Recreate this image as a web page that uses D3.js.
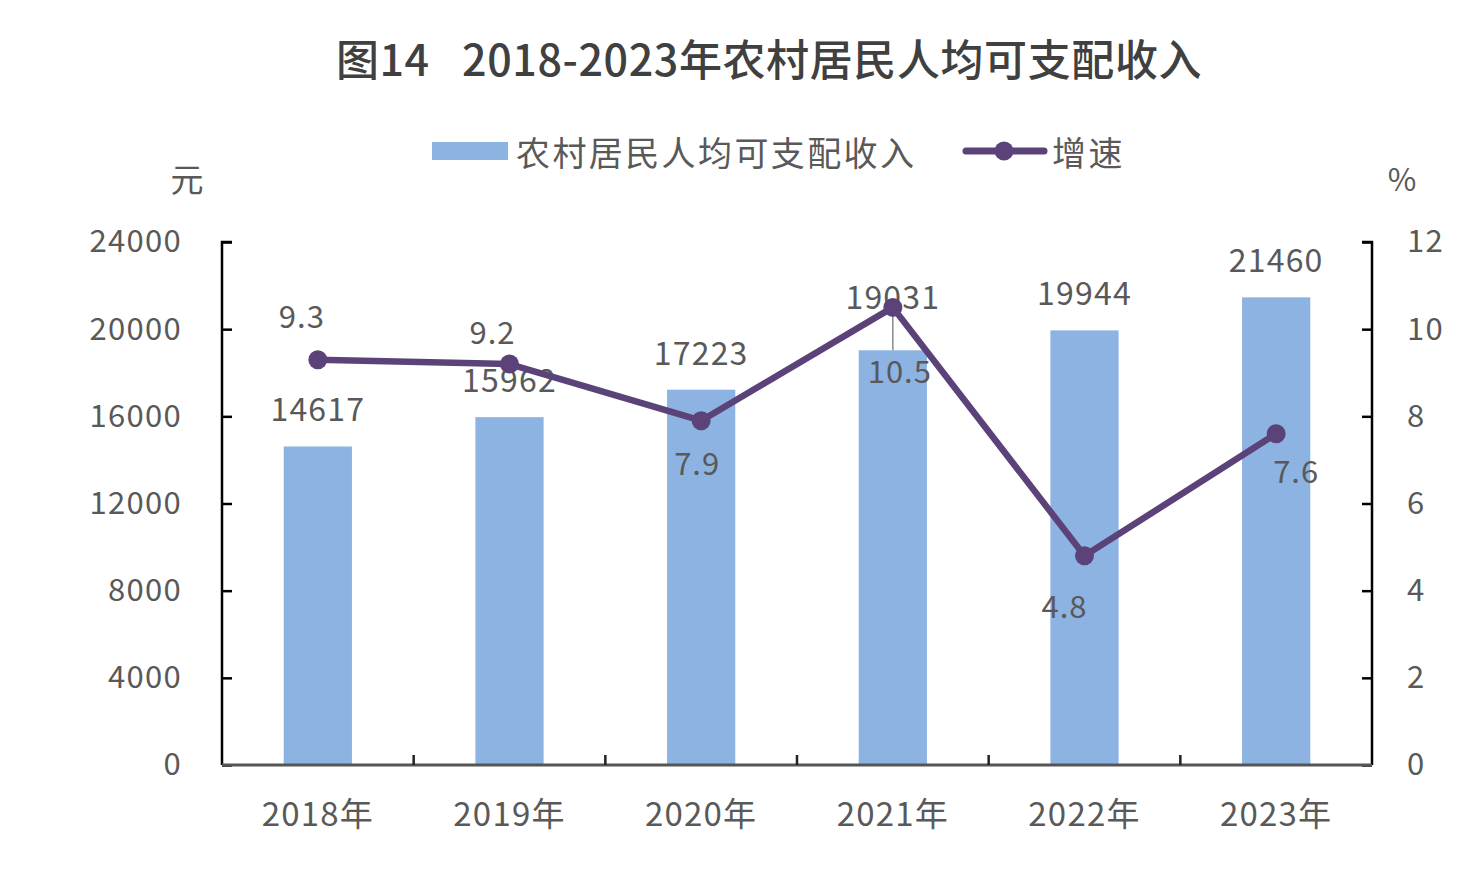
<!DOCTYPE html>
<html><head><meta charset="utf-8">
<script src="https://cdn.jsdelivr.net/npm/d3@7"></script>
<style>body{margin:0;background:#fff}svg{display:block}</style>
</head><body>
<svg id="c" width="1473" height="876"></svg>
<script>
const categories = ["2018年","2019年","2020年","2021年","2022年","2023年"];
const incomeValues = [14617, 15962, 17223, 19031, 19944, 21460];
const growthValues = [9.3, 9.2, 7.9, 10.5, 4.8, 7.6];
const leftTicks = [0, 4000, 8000, 12000, 16000, 20000, 24000];
const rightTicks = [0, 2, 4, 6, 8, 10, 12];
const title = "图14\u2002 2018-2023年农村居民人均可支配收入";
const seriesNames = ["农村居民人均可支配收入", "增速"];
// label placement tweaks (pixels)
const barLabelLift = [39, 39, 39, 55, 39, 39];
const lineLabelOffset = [[-16,-45],[-17,-34],[-4,41],[7,62],[-20,49],[20,36]];

const svg = d3.select("#c");
const m = {left:222, right:1372, top:242, bottom:765};
const font = "'Noto Sans CJK SC', 'Noto Sans', sans-serif";
const txt = "#595959";
const barColor = "#8db3e2";
const lineColor = "#5b4379";

const x = d3.scaleBand().domain(categories).range([m.left, m.right]).paddingInner(0).paddingOuter(0);
const yL = d3.scaleLinear().domain([0,24000]).range([m.bottom, m.top]);
const yR = d3.scaleLinear().domain([0,12]).range([m.bottom, m.top]);

// title
svg.append("text").attr("x", 769).attr("y", 57).attr("text-anchor","middle")
  .attr("dominant-baseline","central")
  .style("font-family","'Noto Sans CJK SC', serif").style("font-size","43px").style("font-weight","500")
  .style("letter-spacing","0.6px")
  .attr("fill","#404040").text(title);

// legend
const lg = svg.append("g");
lg.append("rect").attr("x",432).attr("y",142).attr("width",76).attr("height",18).attr("fill",barColor);
lg.append("text").attr("x",516).attr("y",151).attr("dominant-baseline","central")
  .style("font-family",font).style("font-size","34px").style("letter-spacing","2.4px").attr("fill",txt).text(seriesNames[0]);
lg.append("line").attr("x1",966).attr("x2",1044).attr("y1",151).attr("y2",151)
  .attr("stroke",lineColor).attr("stroke-width",7).attr("stroke-linecap","round");
lg.append("circle").attr("cx",1004).attr("cy",151).attr("r",9.5).attr("fill",lineColor);
lg.append("text").attr("x",1052).attr("y",151).attr("dominant-baseline","central")
  .style("font-family",font).style("font-size","34px").style("letter-spacing","2.4px").attr("fill",txt).text(seriesNames[1]);

// unit labels
svg.append("text").attr("x",187).attr("y",178).attr("text-anchor","middle").attr("dominant-baseline","central")
  .style("font-family",font).style("font-size","33px").attr("fill",txt).text("元");
svg.append("text").attr("x",1402).attr("y",177).attr("text-anchor","middle").attr("dominant-baseline","central")
  .style("font-family",font).style("font-size","31px").attr("fill",txt).text("%");

// bars
svg.append("g").selectAll("rect").data(incomeValues).join("rect")
  .attr("x",(d,i)=>x(categories[i]) + x.bandwidth()*0.322)
  .attr("width", x.bandwidth()*0.356)
  .attr("y", d=>yL(d)).attr("height", d=>yL(0)-yL(d))
  .attr("fill", barColor);

// bar labels
svg.append("g").selectAll("text").data(incomeValues).join("text")
  .attr("x",(d,i)=>x(categories[i])+x.bandwidth()/2)
  .attr("y",(d,i)=>yL(d)-barLabelLift[i])
  .attr("text-anchor","middle").attr("dominant-baseline","central")
  .style("font-family",font).style("font-size","32px").style("letter-spacing","1.2px").attr("fill",txt).text(d=>d);
// leader line for shifted label
svg.append("g").selectAll("line").data(incomeValues.map((d,i)=>[d,i]).filter(p=>barLabelLift[p[1]]>45)).join("line")
  .attr("x1",p=>x(categories[p[1]])+x.bandwidth()/2).attr("x2",p=>x(categories[p[1]])+x.bandwidth()/2)
  .attr("y1",p=>yL(p[0])-barLabelLift[p[1]]+15).attr("y2",p=>yL(p[0]))
  .attr("stroke","#8c8c8c").attr("stroke-width",1.5);

// axes
const axL = svg.append("g").attr("transform",`translate(${m.left},0)`)
  .call(d3.axisRight(yL).tickValues(leftTicks).tickSize(10).tickFormat(d3.format("d")));
axL.select(".domain").attr("d",`M10,${m.top}H0V${m.bottom}`);
axL.selectAll("text").attr("x",-40).attr("text-anchor","end");
const axR = svg.append("g").attr("transform",`translate(${m.right},0)`)
  .call(d3.axisLeft(yR).tickValues(rightTicks).tickSize(10));
axR.select(".domain").attr("d",`M-10,${m.top}H0V${m.bottom}`);
axR.selectAll("text").attr("x",35).attr("text-anchor","start");
[axL, axR].forEach(a=>{
  a.select(".domain").attr("stroke","#000").attr("stroke-width",2.5).attr("fill","none");
  a.selectAll(".tick line").attr("stroke","#000").attr("stroke-width",2.5);
  a.selectAll("text").style("font-family",font).style("font-size","31px").style("letter-spacing","1.3px").attr("fill",txt);
});

// x axis
const xb = svg.append("g").attr("transform",`translate(0,${m.bottom})`);
xb.append("line").attr("x1",m.left).attr("x2",m.right).attr("stroke","#555").attr("stroke-width",3);
xb.selectAll("line.t").data(categories.slice(1)).join("line").attr("class","t")
  .attr("x1",d=>x(d)).attr("x2",d=>x(d)).attr("y1",0).attr("y2",-10)
  .attr("stroke","#222").attr("stroke-width",2.5);
xb.selectAll("text").data(categories).join("text")
  .attr("x",d=>x(d)+x.bandwidth()/2).attr("y",47)
  .attr("text-anchor","middle").attr("dominant-baseline","central")
  .style("font-family",font).style("font-size","33px").style("letter-spacing","1.2px").attr("fill",txt).text(d=>d);

// growth line
const cx = i => x(categories[i]) + x.bandwidth()/2;
svg.append("path").datum(growthValues)
  .attr("d", d3.line().x((d,i)=>cx(i)).y(d=>yR(d)))
  .attr("fill","none").attr("stroke",lineColor).attr("stroke-width",6.5).attr("stroke-linejoin","round");
svg.append("g").selectAll("circle").data(growthValues).join("circle")
  .attr("cx",(d,i)=>cx(i)).attr("cy",d=>yR(d)).attr("r",9.5).attr("fill",lineColor);
svg.append("g").selectAll("text").data(growthValues).join("text")
  .attr("x",(d,i)=>cx(i)+lineLabelOffset[i][0]).attr("y",(d,i)=>yR(d)+lineLabelOffset[i][1])
  .attr("text-anchor","middle").attr("dominant-baseline","central")
  .style("font-family",font).style("font-size","31px").style("letter-spacing","1px").attr("fill",txt).text(d=>d.toFixed(1));
</script>
</body></html>
